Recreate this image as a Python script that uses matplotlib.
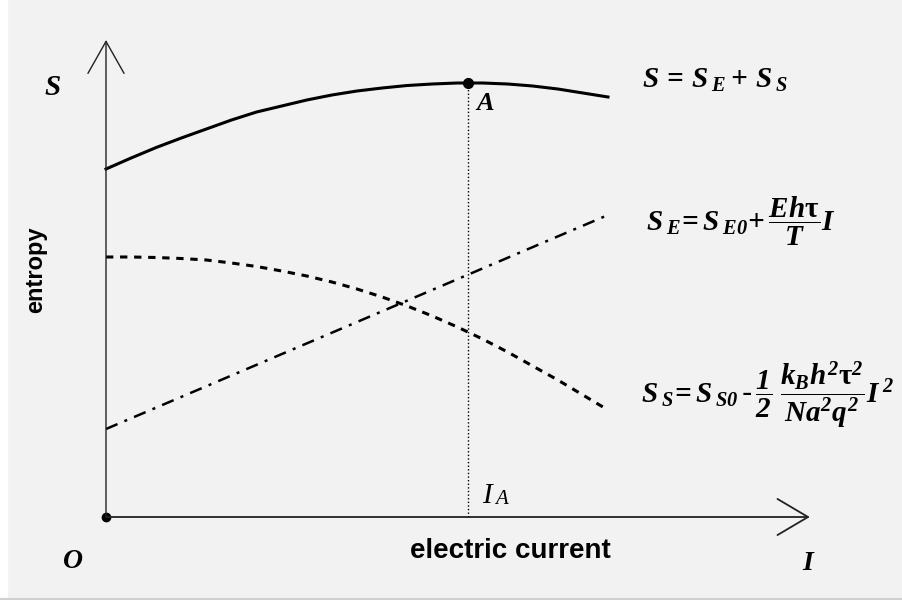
#!/usr/bin/env python3

# +
# import(s)
# -
import matplotlib as mpl
import matplotlib.pyplot as plt
from matplotlib.patches import Rectangle
from matplotlib.lines import Line2D

mpl.use('Agg')

# +
# data (arbitrary units)
# -
current = [0, 0.5, 1, 1.5, 2, 2.5, 3, 3.5, 4, 4.5, 5, 5.5, 6, 6.5, 7, 7.5, 8, 8.5, 9, 9.5, 10]
s_total = [6.96, 7.18, 7.39, 7.58, 7.76, 7.94, 8.10, 8.22, 8.34, 8.44, 8.52,
           8.58, 8.63, 8.66, 8.68, 8.68, 8.66, 8.62, 8.56, 8.48, 8.40]
s_spin = [5.20, 5.20, 5.19, 5.17, 5.14, 5.08, 5.01, 4.92, 4.82, 4.70, 4.56,
          4.40, 4.22, 4.02, 3.80, 3.56, 3.30, 3.02, 2.74, 2.44, 2.14]
current_e = [0, 10]
s_elec = [1.76, 6.04]
i_a, s_a = 7.21, 8.68
x_end, y_end = 14.02, 9.54

# +
# fonts
# -
plt.rcParams['mathtext.fontset'] = 'custom'
plt.rcParams['mathtext.it'] = 'Liberation Serif:italic:bold'
plt.rcParams['mathtext.rm'] = 'Liberation Serif:italic:bold'
plt.rcParams['mathtext.bf'] = 'Liberation Serif:bold'
SERIF_BI = dict(family='Liberation Serif', style='italic', weight='bold')
SERIF_I = dict(family='Liberation Serif', style='italic')
SANS_B = dict(family='Liberation Sans', weight='bold')

# +
# set up plot
# -
fig = plt.figure(figsize=(9.02, 6), dpi=100, facecolor='#f2f2f2')
fig.patches.append(Rectangle((0, 0), 7 / 902, 1, transform=fig.transFigure, color='white', zorder=0))
fig.lines.append(Line2D([0, 1], [1.5 / 600, 1.5 / 600], transform=fig.transFigure, color='#d0d0d0', lw=1.5))
ax = fig.add_axes([0, 0, 1, 1])
ax.set_xlim(-106 / 50.2, 796 / 50.2)
ax.set_ylim(-83 / 50, 517 / 50)
ax.axis('off')

# axes with open arrow heads
ax.annotate('', xy=(0, y_end), xytext=(0, 0),
            arrowprops=dict(arrowstyle='->,head_length=23,head_width=13', mutation_scale=1,
                            color='#222222', lw=1.0, shrinkA=0, shrinkB=0))
ax.annotate('', xy=(x_end, 0), xytext=(0, 0),
            arrowprops=dict(arrowstyle='->,head_length=22,head_width=13', mutation_scale=1,
                            color='#222222', lw=1.3, shrinkA=0, shrinkB=0))
ax.plot([0], [0], 'o', color='black', ms=6)

# curves
ax.plot(current, s_total, '-', color='black', lw=2.2, solid_joinstyle='round')
ax.plot(current, s_spin, color='black', lw=2.2, linestyle=(0, (2.4, 2.2)))
ax.plot(current_e, s_elec, color='black', lw=1.8, linestyle=(0, (5, 3, 1.2, 3)))
ax.plot([i_a, i_a], [0, s_a], color='black', lw=1.0, linestyle=(0, (1, 1.6)))
ax.plot([i_a], [s_a], 'o', color='black', ms=7)

# labels
ax.text(-1.22, 8.44, 'S', fontsize=21, **SERIF_BI)
ax.text(-1.41, 4.94, 'entropy', fontsize=17, rotation=90, ha='center', va='center', **SANS_B)
ax.text(-0.86, -1.02, 'O', fontsize=20, **SERIF_BI)
ax.text(8.05, -0.82, 'electric current', fontsize=20, ha='center', **SANS_B)
ax.text(13.86, -1.06, 'I', fontsize=20, **SERIF_BI)
ax.text(7.49, 0.28, 'I', fontsize=21, **SERIF_I)
ax.text(7.76, 0.26, 'A', fontsize=15, **SERIF_I)
ax.text(7.37, 8.14, 'A', fontsize=19, **SERIF_BI)

# equations
ax.text(10.68, 8.58, r'$S\,=\,S\,_{E}+\,S\,_{S}$', fontsize=21)
ax.text(10.76, 5.70, r'$S\,_{E}\!=S\,_{E0}\!+\dfrac{Eh\mathbf{\tau}}{T}I$', fontsize=21)
ax.text(10.66, 2.28, r'$S\,_{S}\!=S\,_{S0}\,$-$\,\dfrac{1}{2}\;\dfrac{k_{B}h^{2}\mathbf{\tau}^{2}}{Na^{2}q^{2}}I^{\,2}$',
        fontsize=21)

# output(s)
plt.savefig('out.png', dpi=100, facecolor=fig.get_facecolor())
